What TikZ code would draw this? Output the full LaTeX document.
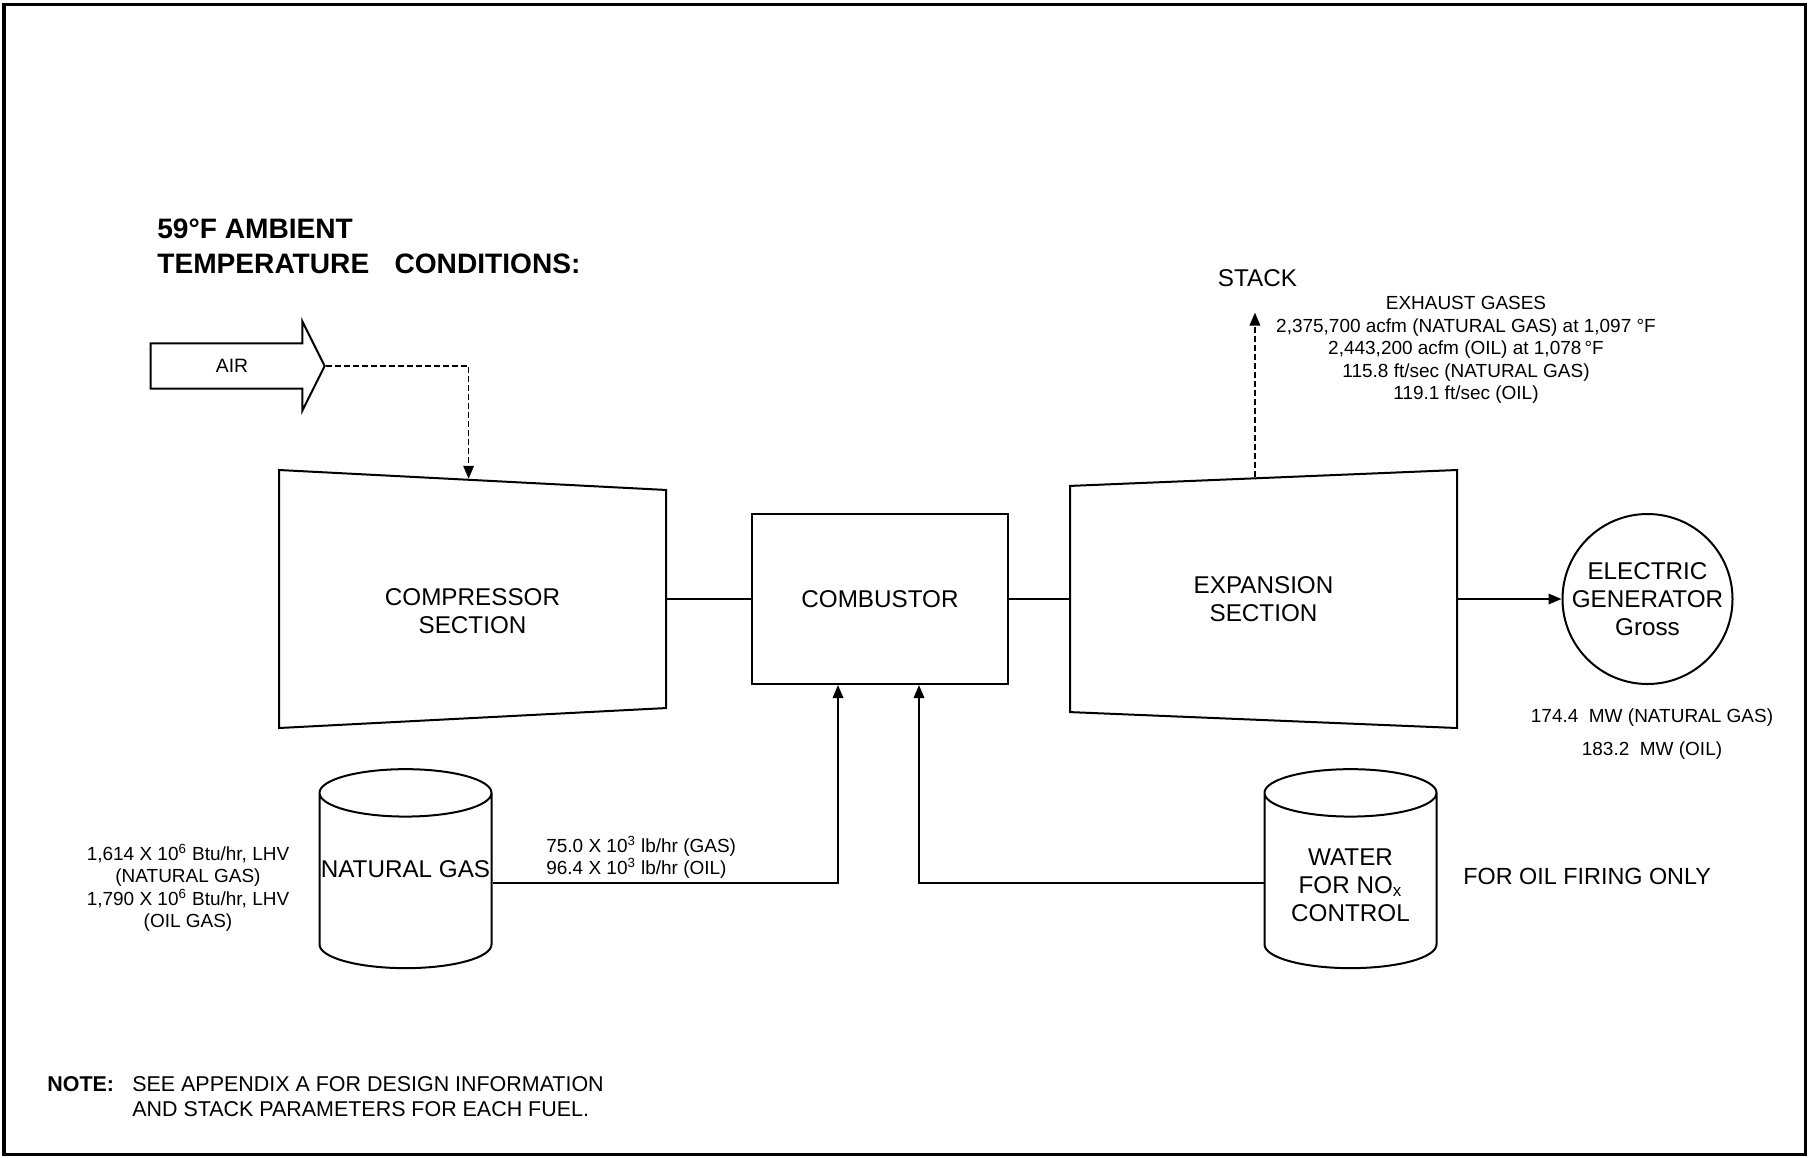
\documentclass[tikz,border=0pt]{standalone}
\usepackage{fontspec}
\setmainfont{Liberation Sans}
\usetikzlibrary{arrows.meta,shapes.geometric,shapes.arrows,calc}
\newcommand\bigfont{\fontsize{13.8}{16}\selectfont}
\newcommand\smfont{\fontsize{10.8}{12.8}\selectfont}
\tikzset{
  part/.style={draw, line width=0.4mm, align=center, inner sep=0pt, font=\bigfont},
  sect/.style={part, trapezium, trapezium left angle=83.5, trapezium right angle=83.5, trapezium stretches body, minimum width=51.6mm, minimum height=77.4mm},
  tank/.style={part, cylinder, shape border rotate=90, aspect=0.28, minimum width=34.4mm, minimum height=39.8mm},
  lbl/.style={align=center, inner sep=0pt, font=\smfont},
  ln/.style={line width=0.35mm},
  arr/.style={ln, -{Triangle[length=2.6mm, width=2.1mm]}},
  darr/.style={arr, dash pattern=on 1.2mm off 0.6mm},
}
\begin{document}
\begin{tikzpicture}[x=0.2mm, y=-0.2mm]
  \useasboundingbox (0,0) rectangle (1809,1157);
  \draw[line width=0.6mm] (4,4) rectangle (1805,1154);
  \node[anchor=west, align=left, inner sep=0pt, font=\fontsize{16}{19.8}\selectfont\bfseries] (ttl) at (157,246) {59°F AMBIENT\\TEMPERATURE\hspace{0.9em}CONDITIONS:};
  % turbine train
  \node[single arrow, draw, line width=0.4mm, single arrow head extend=4.4mm, single arrow tip angle=127, minimum height=34.8mm, inner xsep=0pt, inner ysep=3mm, font=\fontsize{11}{13}\selectfont] (air) at (232,366) {AIR};
  \node[sect, shape border rotate=270] (cmp) at (472.5,599) {\rule{0pt}{8.3mm}COMPRESSOR\\SECTION};
  \node[part, minimum width=51.2mm, minimum height=34mm] (comb) at (880,599) {COMBUSTOR};
  \node[sect, shape border rotate=90] (exp) at (1263.5,599) {EXPANSION\\SECTION};
  \node[part, circle, minimum size=34mm] (gen) at (1647.5,599) {ELECTRIC\\GENERATOR\\Gross};
  \node[tank] (ng) at (405.5,881) {NATURAL GAS\rule[-4.8mm]{0pt}{4.8mm}};
  \node[tank, aspect=0.4] (wat) at (1350.5,881) {\rule{0pt}{4.9mm}WATER\\FOR NO\textsubscript{x}\\CONTROL};
  % labels
  \node[anchor=base, inner sep=0pt, font=\bigfont] (stack) at (1257.5,286) {STACK};
  \node[lbl] (exh) at (1466,350) {EXHAUST GASES\\2,375,700 acfm (NATURAL GAS) at 1,097 °F\\2,443,200 acfm (OIL) at 1,078\,°F\\115.8 ft/sec (NATURAL GAS)\\119.1 ft/sec (OIL)};
  \node[lbl] (heat) at (188,888) {1,614 X 10\textsuperscript{6} Btu/hr, LHV\\(NATURAL GAS)\\1,790 X 10\textsuperscript{6} Btu/hr, LHV\\(OIL GAS)};
  \node[lbl, align=left, anchor=west, font=\fontsize{10.8}{11.4}\selectfont] (fuel) at (546,857) {75.0 X 10\textsuperscript{3} lb/hr (GAS)\\96.4 X 10\textsuperscript{3} lb/hr (OIL)};
  \node[lbl, font=\fontsize{10.8}{18.7}\selectfont] (mw) at (1652,734) {174.4\ \ MW (NATURAL GAS)\\183.2\ \ MW (OIL)};
  \node[anchor=base west, inner sep=0pt, font=\fontsize{13.3}{16}\selectfont] (oil) at (1463,884) {FOR OIL FIRING ONLY};
  \node[anchor=north west, align=left, inner sep=0pt, font=\fontsize{12.2}{14.2}\selectfont] (note) at (47,1076) {\makebox[17mm][l]{\textbf{NOTE:}}SEE APPENDIX A FOR DESIGN INFORMATION\\\hspace*{17mm}AND STACK PARAMETERS FOR EACH FUEL.};
  % connections
  \draw[darr] (air.tip) -| ($(cmp.bottom left corner)!0.49!(cmp.top left corner)$);
  \draw[ln] (cmp.east) -- (comb.west);
  \draw[ln] (comb.east) -- (exp.west);
  \draw[arr] (exp.east) -- (gen.west);
  \draw[darr, shorten >=5.2mm] ($(exp.top right corner)!0.478!(exp.bottom right corner)$) coordinate (vent) -- (vent |- stack.south);
  \draw[arr] ([yshift=-0.4mm]ng.east) -| ([xshift=-8.4mm]comb.south);
  \draw[arr] ([yshift=-0.4mm]wat.west) -| ([xshift=7.8mm]comb.south);
\end{tikzpicture}
\end{document}
